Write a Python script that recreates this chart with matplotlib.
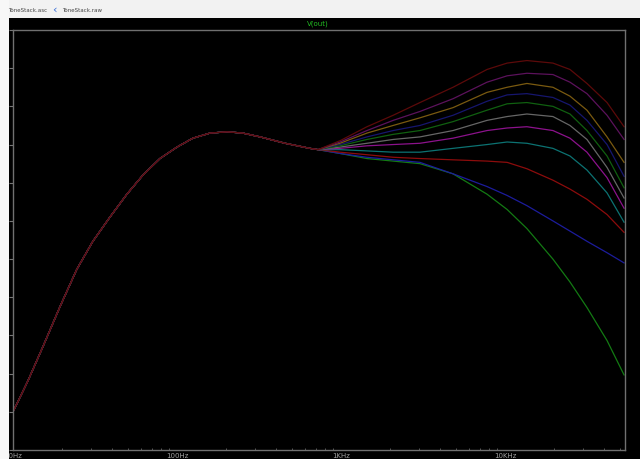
import numpy as np
import matplotlib.pyplot as plt
from matplotlib.patches import Rectangle

# parte comun (todas las curvas coinciden hasta ~720 Hz)
f_com = [10, 12.3, 15.2, 19.4, 24.5, 30.7, 39, 49.5, 62, 78.7, 100, 125, 159, 202, 252, 321, 456, 647]
db_com = [-24.0, -21.6, -18.9, -15.7, -12.8, -10.6, -8.7, -6.9, -5.4, -4.1, -3.2, -2.5,
          -2.1, -2.0, -2.1, -2.4, -2.9, -3.3]

# parte donde se separan las curvas (.step)
f_step = [724, 986, 1440, 2080, 3030, 4820, 7770, 10300, 13600, 19600, 24900, 31600, 41900, 53200]
db_c1 = [-3.4, -2.7, -1.6, -0.7, 0.3, 1.5, 2.9, 3.4, 3.6, 3.4, 2.9, 1.8, 0.3, -1.6]
db_c2 = [-3.4, -2.8, -1.9, -1.1, -0.4, 0.6, 1.9, 2.4, 2.6, 2.5, 1.9, 1.0, -0.7, -2.6]
db_c3 = [-3.4, -2.9, -2.1, -1.5, -0.9, -0.1, 1.1, 1.5, 1.8, 1.5, 0.8, -0.3, -2.4, -4.4]
db_c4 = [-3.4, -3.0, -2.4, -1.9, -1.5, -0.7, 0.4, 0.9, 1.0, 0.7, 0.1, -1.1, -3.0, -5.5]
db_c5 = [-3.4, -3.1, -2.6, -2.2, -1.9, -1.2, -0.3, 0.2, 0.3, 0.0, -0.6, -1.9, -3.9, -6.4]
db_c6 = [-3.4, -3.2, -2.9, -2.6, -2.4, -1.9, -1.1, -0.8, -0.6, -0.8, -1.5, -2.6, -4.8, -7.2]
db_c7 = [-3.4, -3.3, -3.1, -3.0, -2.9, -2.5, -1.9, -1.7, -1.6, -1.9, -2.5, -3.6, -5.6, -8.0]
db_c8 = [-3.4, -3.4, -3.5, -3.6, -3.6, -3.3, -3.0, -2.8, -2.9, -3.3, -3.9, -5.0, -6.8, -9.1]
db_c9 = [-3.4, -3.6, -3.8, -4.0, -4.1, -4.2, -4.3, -4.4, -4.9, -5.8, -6.5, -7.3, -8.5, -9.9]
db_c10 = [-3.4, -3.7, -4.0, -4.2, -4.4, -5.3, -6.3, -7.0, -7.8, -9.0, -9.8, -10.6, -11.5, -12.3]
db_c11 = [-3.4, -3.7, -4.1, -4.3, -4.5, -5.3, -6.9, -8.1, -9.6, -12.0, -13.8, -15.8, -18.4, -21.1]

curvas = [db_c11, db_c10, db_c9, db_c8, db_c7, db_c6, db_c5, db_c4, db_c3, db_c2, db_c1]
colores = ['#137a13', '#1c1c9c', '#8c0c0c', '#0c7272', '#8c128c', '#666666',
           '#106010', '#16166e', '#7a5a10', '#5c125c', '#5c0a0a']

xticks = [10, 100, 1000, 10000]
xlabels = ['10Hz', '100Hz', '1KHz', '10KHz']
yticks = [6 - 3 * i for i in range(12)]

fig = plt.figure(figsize=(6.4, 4.59), dpi=100, facecolor='black')
ax = fig.add_axes([13/640, 9/459, 612/640, 420/459], facecolor='black')

f_all = f_com + f_step
for db, c in zip(curvas, colores):
    ax.plot(f_all, db_com + db, color=c, lw=0.9)

ax.set_xscale('log')
ax.set_xlim(10, 10**(1 + 612/164))
ax.set_ylim(-27, 6)
ax.set_xticks(xticks)
ax.set_xticklabels(xlabels)
ax.set_yticks(yticks)
ax.set_yticklabels([])
ax.tick_params(axis='x', which='major', length=0, pad=2, labelsize=5, labelcolor='#a0a0a0')
ax.tick_params(axis='x', which='minor', length=1.5, direction='in', color='#666666')
ax.tick_params(axis='y', length=3, direction='out', color='#777777')
for s in ax.spines.values():
    s.set_color('#707070')
    s.set_linewidth(1)

fig.text(318/640, 1 - 24/459, 'V(out)', color='#22bb22', fontsize=5, ha='center', va='center')

# barra de pestañas y franja izquierda
fig.patches.append(Rectangle((0, 1 - 18/459), 1, 18/459, transform=fig.transFigure,
                             facecolor='#f2f2f2', edgecolor='none', zorder=5))
fig.patches.append(Rectangle((0, 0), 9/640, 1, transform=fig.transFigure,
                             facecolor='#f7f7f7', edgecolor='none', zorder=5))
fig.text(8/640, 1 - 10/459, 'ToneStack.asc', fontsize=4, color='#444444', va='center', zorder=6)
fig.text(52/640, 1 - 10/459, '\u2039', fontsize=8, color='#3a6fd8', va='center', zorder=6)
fig.text(62/640, 1 - 10/459, 'ToneStack.raw', fontsize=4, color='#444444', va='center', zorder=6)

fig.savefig('out.png', dpi=100, facecolor='black')
